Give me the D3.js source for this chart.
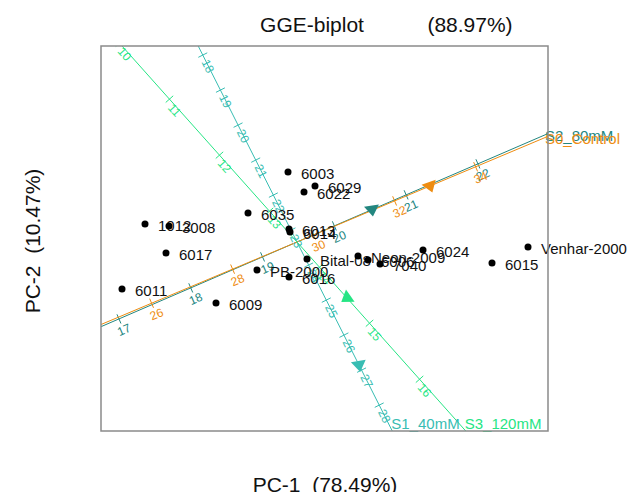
<!DOCTYPE html>
<html>
<head>
<meta charset="utf-8">
<script src="https://cdn.jsdelivr.net/npm/d3@7"></script>
<style>
  body { margin: 0; background: #fff; }
  svg { font-family: 'Liberation Sans', Arial, sans-serif; }
</style>
</head>
<body>
<div id="chart"></div>
<script>
'use strict';

// Genotype scores on PC-1 / PC-2.
const genotypes = ['6003', '6029', '6022', '1012', '3008', '6035', '6013', '6014',
  '6017', 'Bital-08', 'Neon-2009', '6006', '7040', '6024', '6015', 'Venhar-2000',
  'PB-2000', '6016', '6011', '6009'];
const genoPC1 = [-0.18, 0.36, 0.14, -3.04, -2.56, -0.98, -0.16, -0.14,
  -2.62, 0.20, 1.22, 1.42, 1.66, 2.52, 3.90, 4.62,
  -0.80, -0.16, -3.50, -1.62];
const genoPC2 = [1.40, 1.12, 1.00, 0.36, 0.32, 0.58, 0.26, 0.20,
  -0.22, -0.34, -0.28, -0.36, -0.44, -0.16, -0.42, -0.10,
  -0.56, -0.70, -0.94, -1.22];

// Environment vectors.
const environments = ['S2_80mM', 'S0_Control', 'S1_40mM', 'S3_120mM'];
const envPC1 = [1.50, 2.66, 1.24, 1.00];
const envPC2 = [0.648, 1.12, -2.46, -1.12];
// Value read at the origin, and biplot units per unit of value.
const envOrigin = [19.48, 29.59, 23.34, 13.55];
const envStep = [1.564, 0.879, 0.784, 1.502];
const envTicks = [
  [17, 18, 19, 20, 21, 22],
  [26, 28, 30, 32, 34],
  [18, 19, 20, 21, 22, 23, 24, 25, 26, 27, 28],
  [10, 11, 12, 13, 14, 15, 16]
];

const envColors = ['#23867f', '#ee8c10', '#38bdb3', '#26e584'];
const markerTilt = [-8, -20, -10, 55];

const width = 630;
const height = 492;
const box = {left: 101, right: 548, top: 46, bottom: 431};

const svg = d3.select('#chart')
  .append('svg')
  .attr('width', width)
  .attr('height', height);

const x = d3.scaleLinear().domain([-3.92, 5.02]).range([box.left, box.right]);
const y = d3.scaleLinear().domain([-3.78, 3.92]).range([box.bottom, box.top]);

svg.append('clipPath')
  .attr('id', 'plot-clip')
  .append('rect')
  .attr('x', box.left)
  .attr('y', box.top)
  .attr('width', box.right - box.left)
  .attr('height', box.bottom - box.top);

/**
 * Where a ray from (ox, oy) along (ux, uy) leaves the plot box.
 */
function borderHit(ox, oy, ux, uy) {
  const ts = [];
  if (ux > 0) ts.push((box.right - ox) / ux);
  if (ux < 0) ts.push((box.left - ox) / ux);
  if (uy > 0) ts.push((box.bottom - oy) / uy);
  if (uy < 0) ts.push((box.top - oy) / uy);
  const t = Math.min(...ts);
  return [ox + ux * t, oy + uy * t];
}

function inside(px, py) {
  return px >= box.left && px <= box.right && py >= box.top && py <= box.bottom;
}

const plot = svg.append('g').attr('clip-path', 'url(#plot-clip)');
const ox = x(0);
const oy = y(0);

environments.forEach((env, k) => {
  const color = envColors[k];
  const len = Math.hypot(envPC1[k], envPC2[k]);
  const dx = envPC1[k] / len;   // unit direction in biplot units
  const dy = envPC2[k] / len;
  const sx = x(dx) - ox;
  const sy = y(dy) - oy;
  const sl = Math.hypot(sx, sy);
  const ux = sx / sl;
  const uy = sy / sl;
  const angle = Math.atan2(uy, ux) * 180 / Math.PI;

  const [ax, ay] = borderHit(ox, oy, -ux, -uy);
  const [bx, by] = borderHit(ox, oy, ux, uy);

  plot.append('line')
    .attr('x1', ax).attr('y1', ay)
    .attr('x2', bx).attr('y2', by)
    .attr('stroke', color)
    .attr('stroke-width', 1);

  envTicks[k].forEach(v => {
    const d = (v - envOrigin[k]) * envStep[k];
    const tx = x(dx * d);
    const ty = y(dy * d);
    plot.append('line')
      .attr('x1', tx - uy * 5).attr('y1', ty + ux * 5)
      .attr('x2', tx + uy * 5).attr('y2', ty - ux * 5)
      .attr('stroke', color)
      .attr('stroke-width', 1);

    const lx = tx + 5;
    const ly = ty + 11;
    if (!inside(lx, ly)) return;
    svg.append('text')
      .attr('transform', `translate(${lx},${ly}) rotate(${angle})`)
      .attr('text-anchor', 'middle')
      .attr('dominant-baseline', 'central')
      .attr('font-size', '12px')
      .attr('fill', color)
      .text(v);
  });

  // environment marker at the end of its vector
  svg.append('path')
    .attr('d', 'M-7.5,-4L7.5,-4L0,7Z')
    .attr('transform',
      `translate(${x(envPC1[k])},${y(envPC2[k])}) rotate(${markerTilt[k]})`)
    .attr('fill', color);

  const onBottom = by >= box.bottom - 0.5;
  svg.append('text')
    .attr('x', onBottom ? bx - 1 : bx - 3)
    .attr('y', onBottom ? box.bottom - 8 : by + 2)
    .attr('dominant-baseline', 'central')
    .attr('font-size', '15px')
    .attr('fill', color)
    .text(env);
});

// genotypes
genotypes.forEach((g, i) => {
  svg.append('circle')
    .attr('cx', x(genoPC1[i]))
    .attr('cy', y(genoPC2[i]))
    .attr('r', 3.5)
    .attr('fill', '#000');
  svg.append('text')
    .attr('x', x(genoPC1[i]) + 13)
    .attr('y', y(genoPC2[i]) + 1)
    .attr('dominant-baseline', 'central')
    .attr('font-size', '15px')
    .attr('fill', '#111')
    .text(g);
});

// frame
svg.append('rect')
  .attr('x', box.left)
  .attr('y', box.top)
  .attr('width', box.right - box.left)
  .attr('height', box.bottom - box.top)
  .attr('fill', 'none')
  .attr('stroke', '#8a8a8a')
  .attr('stroke-width', 1.5);

// titles
svg.append('text')
  .attr('x', 312).attr('y', 32)
  .attr('text-anchor', 'middle')
  .attr('font-size', '21px')
  .attr('fill', '#111')
  .text('GGE-biplot');
svg.append('text')
  .attr('x', 470).attr('y', 32)
  .attr('text-anchor', 'middle')
  .attr('font-size', '21px')
  .attr('fill', '#111')
  .text('(88.97%)');

svg.append('text')
  .attr('x', 325).attr('y', 492)
  .attr('text-anchor', 'middle')
  .attr('font-size', '21px')
  .attr('fill', '#111')
  .style('white-space', 'pre')
  .text('PC-1  (78.49%)');

svg.append('text')
  .attr('transform', 'translate(40,241) rotate(-90)')
  .attr('text-anchor', 'middle')
  .attr('font-size', '21px')
  .attr('fill', '#111')
  .style('white-space', 'pre')
  .text('PC-2  (10.47%)');
</script>
</body>
</html>
